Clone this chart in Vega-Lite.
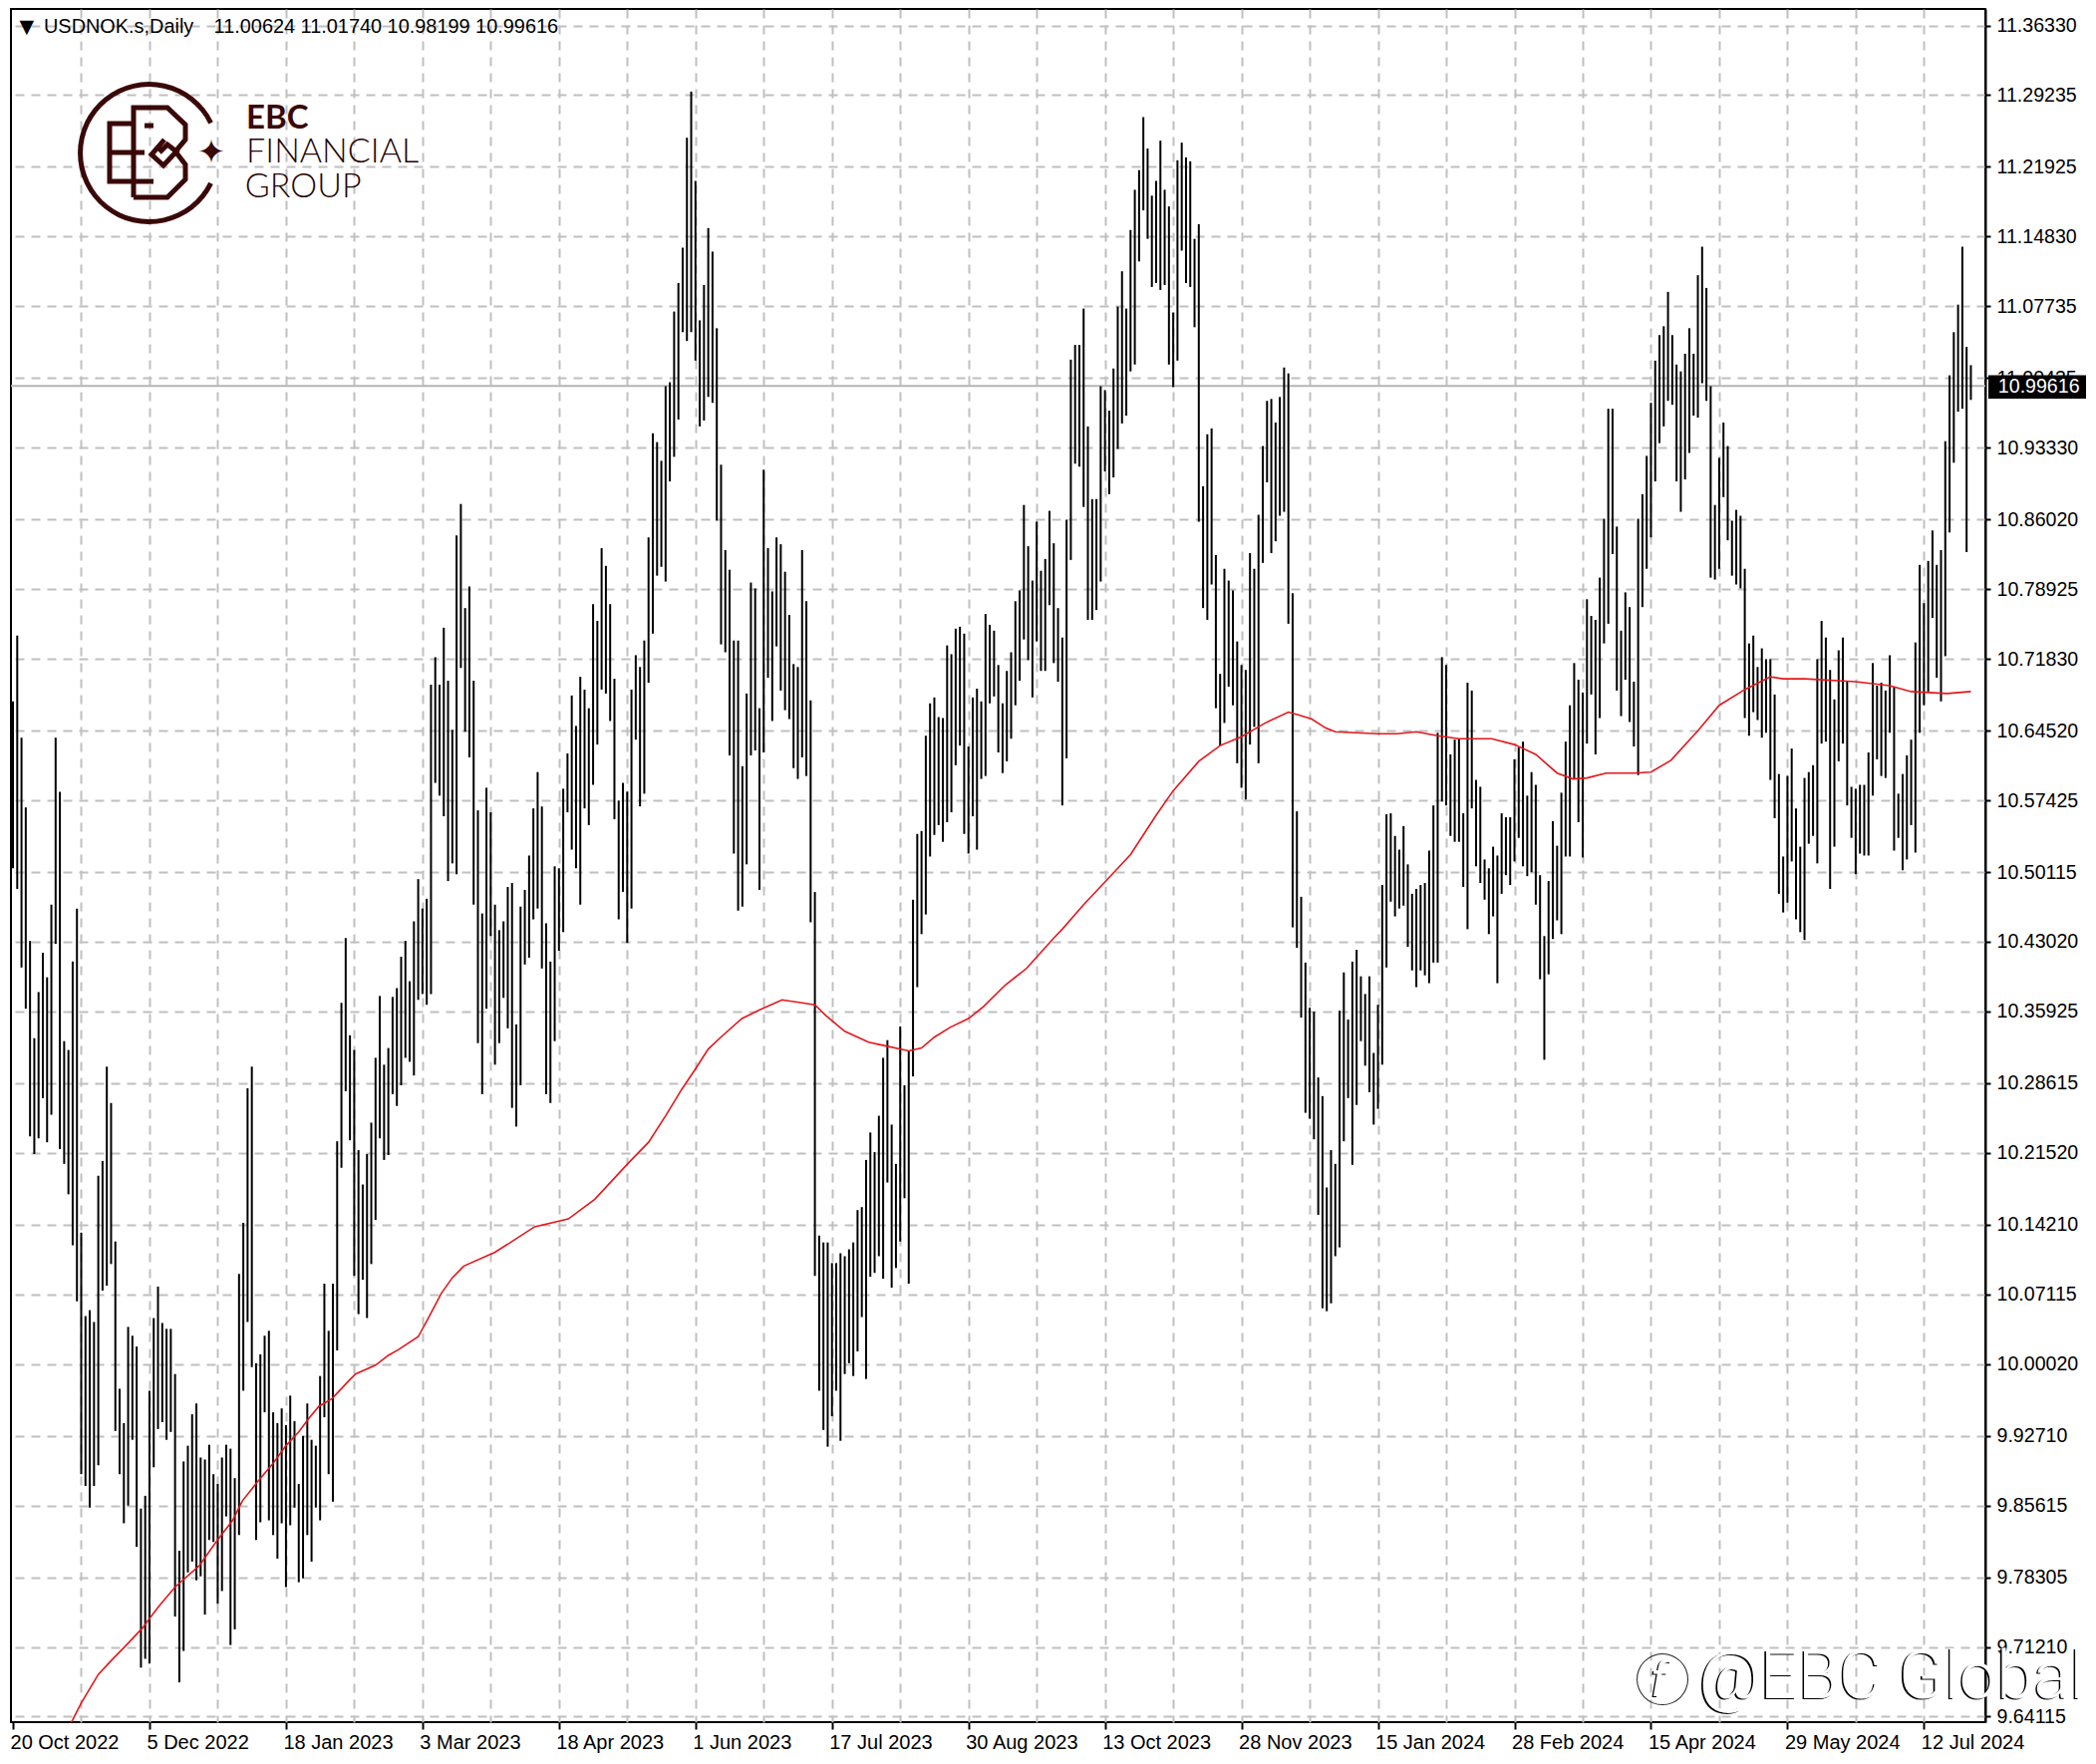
{
"$schema":"https://vega.github.io/schema/vega-lite/v6.json",
"width":1981,"height":1719,
"autosize":{"type":"none"},
"padding":{"left":11,"top":9,"right":111,"bottom":42},
"background":"white",
"view":{"stroke":"#000000","strokeWidth":2,"fill":"white"},
"encoding":{
"x":{"field":"i","type":"quantitative","title":null,
"scale":{"domain":[-0.47,462.4],"nice":false,"zero":false},
"axis":{"values":[0,16,32,48,64,80,96,112,128,144,160,176,192,208,224,240,256,272,288,304,320,336,352,368,384,400,416,432,448],
"grid":true,"gridColor":"#c0c0c0","gridDash":[9,7],"gridWidth":2,
"gridOpacity":{"condition":{"test":"datum.value==0","value":0},"value":1},
"domain":false,"tickColor":"#000000","tickWidth":2,"tickSize":7,
"tickOpacity":{"condition":{"test":"datum.value%32==0","value":1},"value":0},
"labelExpr":"datum.value%32==0?['20 Oct 2022','5 Dec 2022','18 Jan 2023','3 Mar 2023','18 Apr 2023','1 Jun 2023','17 Jul 2023','30 Aug 2023','13 Oct 2023','28 Nov 2023','15 Jan 2024','28 Feb 2024','15 Apr 2024','29 May 2024','12 Jul 2024'][datum.value/32]:''",
"labelAlign":"left","labelBaseline":"top","labelOffset":-3,"labelPadding":3,"labelFont":"Liberation Sans","labelFontSize":20,"labelColor":"#000000","labelOverlap":false,"labelFlush":false,"labelBound":false}},
"y":{"field":"price","type":"quantitative","title":null,
"scale":{"domain":[9.6355,11.3801],"nice":false,"zero":false},
"axis":{"orient":"right","values":[11.3633,11.29235,11.21925,11.1483,11.07735,11.00435,10.9333,10.8602,10.78925,10.7183,10.6452,10.57425,10.50115,10.4302,10.35925,10.28615,10.2152,10.1421,10.07115,10.0002,9.9271,9.85615,9.78305,9.7121,9.64115],
"format":".5f","grid":true,"gridColor":"#c0c0c0","gridDash":[9,7],"gridWidth":2,
"domain":true,"domainColor":"#000000","domainWidth":2,"tickColor":"#000000","tickWidth":2,"tickSize":5,
"labelFont":"Liberation Sans","labelFontSize":19.6,"labelColor":"#000000","labelPadding":6,"labelOverlap":false,"labelFlush":false,"labelBound":false}}
},
"layer":[
{"data":{"values":[{"i":-0.47,"i2":462.4,"price":10.99616}]},"mark":{"type":"rule","color":"#b4b4b4","strokeWidth":2},"encoding":{"x2":{"field":"i2"}}},
{"data":{"values":[
{"i":0,"price":10.675,"low":10.505},{"i":1,"price":10.742,"low":10.484},{"i":2,"price":10.638,"low":10.404},{"i":3,"price":10.567,"low":10.362},{"i":4,"price":10.431,"low":10.232},{"i":5,"price":10.332,"low":10.214},{"i":6,"price":10.379,"low":10.23},{"i":7,"price":10.419,"low":10.271},{"i":8,"price":10.394,"low":10.226},{"i":9,"price":10.468,"low":10.254},
{"i":10,"price":10.638,"low":10.428},{"i":11,"price":10.583,"low":10.219},{"i":12,"price":10.329,"low":10.204},{"i":13,"price":10.32,"low":10.173},{"i":14,"price":10.41,"low":10.121},{"i":15,"price":10.464,"low":10.064},{"i":16,"price":10.134,"low":9.888},{"i":17,"price":10.049,"low":9.876},{"i":18,"price":10.055,"low":9.854},{"i":19,"price":10.043,"low":9.876},
{"i":20,"price":10.192,"low":9.897},{"i":21,"price":10.207,"low":10.075},{"i":22,"price":10.303,"low":10.08},{"i":23,"price":10.266,"low":10.102},{"i":24,"price":10.125,"low":9.932},{"i":25,"price":9.975,"low":9.888},{"i":26,"price":9.94,"low":9.838},{"i":27,"price":10.038,"low":9.856},{"i":28,"price":10.029,"low":9.923},{"i":29,"price":10.018,"low":9.814},
{"i":30,"price":9.853,"low":9.691},{"i":31,"price":9.866,"low":9.7},{"i":32,"price":9.973,"low":9.695},{"i":33,"price":10.047,"low":9.895},{"i":34,"price":10.079,"low":9.934},{"i":35,"price":10.042,"low":9.941},{"i":36,"price":10.036,"low":9.923},{"i":37,"price":10.036,"low":9.931},{"i":38,"price":9.99,"low":9.743},{"i":39,"price":9.81,"low":9.676},
{"i":40,"price":9.901,"low":9.708},{"i":41,"price":9.917,"low":9.788},{"i":42,"price":9.949,"low":9.799},{"i":43,"price":9.96,"low":9.78},{"i":44,"price":9.905,"low":9.784},{"i":45,"price":9.903,"low":9.745},{"i":46,"price":9.918,"low":9.821},{"i":47,"price":9.888,"low":9.819},{"i":48,"price":9.878,"low":9.756},{"i":49,"price":9.905,"low":9.769},
{"i":50,"price":9.918,"low":9.845},{"i":51,"price":9.914,"low":9.714},{"i":52,"price":9.884,"low":9.73},{"i":53,"price":10.092,"low":9.826},{"i":54,"price":10.144,"low":9.973},{"i":55,"price":10.281,"low":10.043},{"i":56,"price":10.303,"low":9.997},{"i":57,"price":10.001,"low":9.821},{"i":58,"price":10.01,"low":9.839},{"i":59,"price":10.029,"low":9.951},
{"i":60,"price":10.034,"low":9.841},{"i":61,"price":9.951,"low":9.826},{"i":62,"price":9.94,"low":9.802},{"i":63,"price":9.955,"low":9.838},{"i":64,"price":9.938,"low":9.773},{"i":65,"price":9.968,"low":9.836},{"i":66,"price":9.942,"low":9.854},{"i":67,"price":9.878,"low":9.778},{"i":68,"price":9.927,"low":9.782},{"i":69,"price":9.96,"low":9.826},
{"i":70,"price":9.923,"low":9.799},{"i":71,"price":9.917,"low":9.854},{"i":72,"price":9.988,"low":9.841},{"i":73,"price":10.082,"low":9.946},{"i":74,"price":10.034,"low":9.888},{"i":75,"price":10.082,"low":9.86},{"i":76,"price":10.227,"low":10.014},{"i":77,"price":10.368,"low":10.2},{"i":78,"price":10.434,"low":10.278},{"i":79,"price":10.335,"low":10.228},
{"i":80,"price":10.32,"low":10.09},{"i":81,"price":10.218,"low":10.051},{"i":82,"price":10.183,"low":10.086},{"i":83,"price":10.214,"low":10.047},{"i":84,"price":10.246,"low":10.102},{"i":85,"price":10.312,"low":10.147},{"i":86,"price":10.375,"low":10.23},{"i":87,"price":10.305,"low":10.208},{"i":88,"price":10.322,"low":10.213},{"i":89,"price":10.374,"low":10.275},
{"i":90,"price":10.383,"low":10.263},{"i":91,"price":10.415,"low":10.284},{"i":92,"price":10.431,"low":10.312},{"i":93,"price":10.39,"low":10.308},{"i":94,"price":10.451,"low":10.294},{"i":95,"price":10.494,"low":10.371},{"i":96,"price":10.464,"low":10.377},{"i":97,"price":10.474,"low":10.366},{"i":98,"price":10.692,"low":10.377},{"i":99,"price":10.72,"low":10.592},
{"i":100,"price":10.692,"low":10.579},{"i":101,"price":10.75,"low":10.558},{"i":102,"price":10.696,"low":10.492},{"i":103,"price":10.646,"low":10.51},{"i":104,"price":10.844,"low":10.499},{"i":105,"price":10.876,"low":10.709},{"i":106,"price":10.77,"low":10.644},{"i":107,"price":10.792,"low":10.618},{"i":108,"price":10.696,"low":10.468},{"i":109,"price":10.564,"low":10.327},
{"i":110,"price":10.459,"low":10.275},{"i":111,"price":10.587,"low":10.362},{"i":112,"price":10.562,"low":10.436},{"i":113,"price":10.468,"low":10.305},{"i":114,"price":10.442,"low":10.327},{"i":115,"price":10.451,"low":10.373},{"i":116,"price":10.486,"low":10.342},{"i":117,"price":10.49,"low":10.261},{"i":118,"price":10.346,"low":10.242},{"i":119,"price":10.466,"low":10.284},
{"i":120,"price":10.483,"low":10.407},{"i":121,"price":10.518,"low":10.414},{"i":122,"price":10.566,"low":10.453},{"i":123,"price":10.603,"low":10.464},{"i":124,"price":10.568,"low":10.403},{"i":125,"price":10.449,"low":10.275},{"i":126,"price":10.41,"low":10.266},{"i":127,"price":10.507,"low":10.329},{"i":128,"price":10.505,"low":10.421},{"i":129,"price":10.586,"low":10.44},
{"i":130,"price":10.622,"low":10.562},{"i":131,"price":10.681,"low":10.524},{"i":132,"price":10.65,"low":10.505},{"i":133,"price":10.7,"low":10.468},{"i":134,"price":10.687,"low":10.566},{"i":135,"price":10.668,"low":10.549},{"i":136,"price":10.774,"low":10.59},{"i":137,"price":10.757,"low":10.631},{"i":138,"price":10.831,"low":10.687},{"i":139,"price":10.813,"low":10.683},
{"i":140,"price":10.774,"low":10.655},{"i":141,"price":10.698,"low":10.555},{"i":142,"price":10.574,"low":10.453},{"i":143,"price":10.592,"low":10.481},{"i":144,"price":10.583,"low":10.429},{"i":145,"price":10.687,"low":10.464},{"i":146,"price":10.722,"low":10.636},{"i":147,"price":10.71,"low":10.568},{"i":148,"price":10.737,"low":10.581},{"i":149,"price":10.842,"low":10.694},
{"i":150,"price":10.948,"low":10.744},{"i":151,"price":10.939,"low":10.803},{"i":152,"price":10.92,"low":10.812},{"i":153,"price":10.996,"low":10.797},{"i":154,"price":11.0,"low":10.899},{"i":155,"price":11.072,"low":10.924},{"i":156,"price":11.101,"low":10.962},{"i":157,"price":11.137,"low":11.051},{"i":158,"price":11.249,"low":11.042},{"i":159,"price":11.296,"low":11.051},
{"i":160,"price":11.205,"low":11.022},{"i":161,"price":11.063,"low":10.955},{"i":162,"price":11.099,"low":10.961},{"i":163,"price":11.157,"low":10.985},{"i":164,"price":11.133,"low":10.979},{"i":165,"price":11.055,"low":10.859},{"i":166,"price":10.916,"low":10.733},{"i":167,"price":10.829,"low":10.725},{"i":168,"price":10.809,"low":10.62},{"i":169,"price":10.737,"low":10.52},
{"i":170,"price":10.737,"low":10.462},{"i":171,"price":10.609,"low":10.466},{"i":172,"price":10.683,"low":10.509},{"i":173,"price":10.796,"low":10.62},{"i":174,"price":10.79,"low":10.625},{"i":175,"price":10.668,"low":10.483},{"i":176,"price":10.911,"low":10.623},{"i":177,"price":10.831,"low":10.699},{"i":178,"price":10.787,"low":10.655},{"i":179,"price":10.842,"low":10.731},
{"i":180,"price":10.835,"low":10.686},{"i":181,"price":10.807,"low":10.666},{"i":182,"price":10.763,"low":10.657},{"i":183,"price":10.713,"low":10.607},{"i":184,"price":10.71,"low":10.596},{"i":185,"price":10.829,"low":10.618},{"i":186,"price":10.777,"low":10.599},{"i":187,"price":10.676,"low":10.45},{"i":188,"price":10.481,"low":10.09},{"i":189,"price":10.131,"low":9.973},
{"i":190,"price":10.124,"low":9.933},{"i":191,"price":10.124,"low":9.916},{"i":192,"price":10.103,"low":9.947},{"i":193,"price":10.103,"low":9.973},{"i":194,"price":10.113,"low":9.922},{"i":195,"price":10.11,"low":9.99},{"i":196,"price":10.117,"low":10.001},{"i":197,"price":10.124,"low":9.988},{"i":198,"price":10.157,"low":10.013},{"i":199,"price":10.16,"low":10.048},
{"i":200,"price":10.208,"low":9.985},{"i":201,"price":10.236,"low":10.089},{"i":202,"price":10.216,"low":10.093},{"i":203,"price":10.253,"low":10.11},{"i":204,"price":10.312,"low":10.087},{"i":205,"price":10.33,"low":10.185},{"i":206,"price":10.244,"low":10.078},{"i":207,"price":10.204,"low":10.098},{"i":208,"price":10.344,"low":10.125},{"i":209,"price":10.284,"low":10.169},
{"i":210,"price":10.319,"low":10.082},{"i":211,"price":10.473,"low":10.293},{"i":212,"price":10.54,"low":10.384},{"i":213,"price":10.543,"low":10.438},{"i":214,"price":10.64,"low":10.458},{"i":215,"price":10.673,"low":10.517},{"i":216,"price":10.679,"low":10.539},{"i":217,"price":10.659,"low":10.549},{"i":218,"price":10.658,"low":10.532},{"i":219,"price":10.732,"low":10.552},
{"i":220,"price":10.723,"low":10.562},{"i":221,"price":10.749,"low":10.61},{"i":222,"price":10.751,"low":10.63},{"i":223,"price":10.744,"low":10.54},{"i":224,"price":10.629,"low":10.52},{"i":225,"price":10.679,"low":10.558},{"i":226,"price":10.688,"low":10.524},{"i":227,"price":10.675,"low":10.596},{"i":228,"price":10.764,"low":10.599},{"i":229,"price":10.753,"low":10.673},
{"i":230,"price":10.747,"low":10.68},{"i":231,"price":10.712,"low":10.623},{"i":232,"price":10.673,"low":10.602},{"i":233,"price":10.706,"low":10.614},{"i":234,"price":10.725,"low":10.637},{"i":235,"price":10.777,"low":10.671},{"i":236,"price":10.788,"low":10.696},{"i":237,"price":10.875,"low":10.738},{"i":238,"price":10.833,"low":10.717},{"i":239,"price":10.798,"low":10.679},
{"i":240,"price":10.858,"low":10.736},{"i":241,"price":10.808,"low":10.706},{"i":242,"price":10.82,"low":10.706},{"i":243,"price":10.869,"low":10.773},{"i":244,"price":10.836,"low":10.714},{"i":245,"price":10.77,"low":10.695},{"i":246,"price":10.74,"low":10.569},{"i":247,"price":10.86,"low":10.617},{"i":248,"price":11.023,"low":10.819},{"i":249,"price":11.038,"low":10.917},
{"i":250,"price":11.038,"low":10.914},{"i":251,"price":11.075,"low":10.873},{"i":252,"price":10.955,"low":10.758},{"i":253,"price":10.881,"low":10.758},{"i":254,"price":10.881,"low":10.768},{"i":255,"price":10.996,"low":10.797},{"i":256,"price":10.992,"low":10.909},{"i":257,"price":10.971,"low":10.886},{"i":258,"price":11.014,"low":10.903},{"i":259,"price":11.077,"low":10.932},
{"i":260,"price":11.113,"low":10.958},{"i":261,"price":11.075,"low":10.966},{"i":262,"price":11.155,"low":11.011},{"i":263,"price":11.196,"low":11.018},{"i":264,"price":11.216,"low":11.123},{"i":265,"price":11.27,"low":11.175},{"i":266,"price":11.238,"low":11.146},{"i":267,"price":11.19,"low":11.097},{"i":268,"price":11.205,"low":11.101},{"i":269,"price":11.246,"low":11.094},
{"i":270,"price":11.196,"low":11.099},{"i":271,"price":11.179,"low":11.018},{"i":272,"price":11.071,"low":10.995},{"i":273,"price":11.226,"low":11.022},{"i":274,"price":11.244,"low":11.134},{"i":275,"price":11.229,"low":11.101},{"i":276,"price":11.225,"low":11.097},{"i":277,"price":11.146,"low":11.056},{"i":278,"price":11.161,"low":10.858},{"i":279,"price":10.894,"low":10.77},
{"i":280,"price":10.947,"low":10.758},{"i":281,"price":10.953,"low":10.794},{"i":282,"price":10.824,"low":10.668},{"i":283,"price":10.703,"low":10.63},{"i":284,"price":10.81,"low":10.653},{"i":285,"price":10.798,"low":10.69},{"i":286,"price":10.788,"low":10.671},{"i":287,"price":10.736,"low":10.612},{"i":288,"price":10.712,"low":10.587},{"i":289,"price":10.707,"low":10.575},
{"i":290,"price":10.826,"low":10.631},{"i":291,"price":10.81,"low":10.649},{"i":292,"price":10.865,"low":10.612},{"i":293,"price":10.935,"low":10.816},{"i":294,"price":10.981,"low":10.898},{"i":295,"price":10.983,"low":10.826},{"i":296,"price":10.959,"low":10.838},{"i":297,"price":10.985,"low":10.864},{"i":298,"price":11.015,"low":10.868},{"i":299,"price":11.009,"low":10.754},
{"i":300,"price":10.785,"low":10.445},{"i":301,"price":10.563,"low":10.424},{"i":302,"price":10.476,"low":10.353},{"i":303,"price":10.409,"low":10.256},{"i":304,"price":10.363,"low":10.25},{"i":305,"price":10.359,"low":10.229},{"i":306,"price":10.292,"low":10.152},{"i":307,"price":10.273,"low":10.057},{"i":308,"price":10.18,"low":10.054},{"i":309,"price":10.218,"low":10.062},
{"i":310,"price":10.204,"low":10.11},{"i":311,"price":10.36,"low":10.119},{"i":312,"price":10.399,"low":10.227},{"i":313,"price":10.351,"low":10.271},{"i":314,"price":10.41,"low":10.203},{"i":315,"price":10.422,"low":10.264},{"i":316,"price":10.395,"low":10.329},{"i":317,"price":10.377,"low":10.304},{"i":318,"price":10.395,"low":10.277},{"i":319,"price":10.317,"low":10.244},
{"i":320,"price":10.366,"low":10.26},{"i":321,"price":10.488,"low":10.305},{"i":322,"price":10.56,"low":10.404},{"i":323,"price":10.561,"low":10.471},{"i":324,"price":10.538,"low":10.456},{"i":325,"price":10.524,"low":10.464},{"i":326,"price":10.548,"low":10.467},{"i":327,"price":10.509,"low":10.425},{"i":328,"price":10.479,"low":10.401},{"i":329,"price":10.484,"low":10.384},
{"i":330,"price":10.488,"low":10.401},{"i":331,"price":10.49,"low":10.396},{"i":332,"price":10.523,"low":10.388},{"i":333,"price":10.569,"low":10.409},{"i":334,"price":10.643,"low":10.409},{"i":335,"price":10.72,"low":10.573},{"i":336,"price":10.712,"low":10.569},{"i":337,"price":10.621,"low":10.538},{"i":338,"price":10.636,"low":10.532},{"i":339,"price":10.637,"low":10.532},
{"i":340,"price":10.561,"low":10.486},{"i":341,"price":10.694,"low":10.443},{"i":342,"price":10.686,"low":10.566},{"i":343,"price":10.595,"low":10.507},{"i":344,"price":10.588,"low":10.49},{"i":345,"price":10.514,"low":10.473},{"i":346,"price":10.505,"low":10.438},{"i":347,"price":10.527,"low":10.456},{"i":348,"price":10.518,"low":10.388},{"i":349,"price":10.561,"low":10.479},
{"i":350,"price":10.557,"low":10.498},{"i":351,"price":10.557,"low":10.488},{"i":352,"price":10.616,"low":10.512},{"i":353,"price":10.628,"low":10.536},{"i":354,"price":10.634,"low":10.507},{"i":355,"price":10.579,"low":10.497},{"i":356,"price":10.603,"low":10.501},{"i":357,"price":10.59,"low":10.468},{"i":358,"price":10.498,"low":10.392},{"i":359,"price":10.436,"low":10.31},
{"i":360,"price":10.492,"low":10.397},{"i":361,"price":10.553,"low":10.433},{"i":362,"price":10.528,"low":10.452},{"i":363,"price":10.582,"low":10.438},{"i":364,"price":10.634,"low":10.517},{"i":365,"price":10.671,"low":10.517},{"i":366,"price":10.714,"low":10.596},{"i":367,"price":10.697,"low":10.552},{"i":368,"price":10.684,"low":10.516},{"i":369,"price":10.779,"low":10.632},
{"i":370,"price":10.762,"low":10.682},{"i":371,"price":10.758,"low":10.621},{"i":372,"price":10.801,"low":10.658},{"i":373,"price":10.861,"low":10.734},{"i":374,"price":10.973,"low":10.754},{"i":375,"price":10.973,"low":10.825},{"i":376,"price":10.853,"low":10.686},{"i":377,"price":10.747,"low":10.66},{"i":378,"price":10.786,"low":10.697},{"i":379,"price":10.771,"low":10.654},
{"i":380,"price":10.695,"low":10.629},{"i":381,"price":10.861,"low":10.6},{"i":382,"price":10.886,"low":10.771},{"i":383,"price":10.925,"low":10.81},{"i":384,"price":10.979,"low":10.842},{"i":385,"price":11.022,"low":10.899},{"i":386,"price":11.048,"low":10.938},{"i":387,"price":11.057,"low":10.955},{"i":388,"price":11.092,"low":10.981},{"i":389,"price":11.048,"low":10.977},
{"i":390,"price":11.018,"low":10.899},{"i":391,"price":11.011,"low":10.868},{"i":392,"price":11.029,"low":10.901},{"i":393,"price":11.055,"low":10.928},{"i":394,"price":11.029,"low":10.966},{"i":395,"price":11.109,"low":10.964},{"i":396,"price":11.138,"low":10.999},{"i":397,"price":11.096,"low":10.981},{"i":398,"price":10.996,"low":10.801},{"i":399,"price":10.875,"low":10.799},
{"i":400,"price":10.923,"low":10.81},{"i":401,"price":10.959,"low":10.883},{"i":402,"price":10.935,"low":10.839},{"i":403,"price":10.859,"low":10.803},{"i":404,"price":10.87,"low":10.794},{"i":405,"price":10.864,"low":10.79},{"i":406,"price":10.81,"low":10.658},{"i":407,"price":10.734,"low":10.64},{"i":408,"price":10.742,"low":10.664},{"i":409,"price":10.71,"low":10.656},
{"i":410,"price":10.729,"low":10.638},{"i":411,"price":10.718,"low":10.643},{"i":412,"price":10.718,"low":10.595},{"i":413,"price":10.682,"low":10.556},{"i":414,"price":10.601,"low":10.479},{"i":415,"price":10.517,"low":10.46},{"i":416,"price":10.599,"low":10.47},{"i":417,"price":10.627,"low":10.512},{"i":418,"price":10.566,"low":10.453},{"i":419,"price":10.527,"low":10.44},
{"i":420,"price":10.597,"low":10.432},{"i":421,"price":10.603,"low":10.53},{"i":422,"price":10.61,"low":10.538},{"i":423,"price":10.718,"low":10.51},{"i":424,"price":10.757,"low":10.632},{"i":425,"price":10.74,"low":10.634},{"i":426,"price":10.707,"low":10.484},{"i":427,"price":10.677,"low":10.527},{"i":428,"price":10.727,"low":10.614},{"i":429,"price":10.74,"low":10.632},
{"i":430,"price":10.695,"low":10.569},{"i":431,"price":10.588,"low":10.536},{"i":432,"price":10.586,"low":10.499},{"i":433,"price":10.59,"low":10.52},{"i":434,"price":10.59,"low":10.518},{"i":435,"price":10.623,"low":10.518},{"i":436,"price":10.714,"low":10.579},{"i":437,"price":10.691,"low":10.616},{"i":438,"price":10.694,"low":10.599},{"i":439,"price":10.686,"low":10.597},
{"i":440,"price":10.722,"low":10.643},{"i":441,"price":10.69,"low":10.523},{"i":442,"price":10.581,"low":10.536},{"i":443,"price":10.601,"low":10.503},{"i":444,"price":10.62,"low":10.514},{"i":445,"price":10.636,"low":10.549},{"i":446,"price":10.735,"low":10.521},{"i":447,"price":10.814,"low":10.643},{"i":448,"price":10.775,"low":10.671},{"i":449,"price":10.818,"low":10.685},
{"i":450,"price":10.849,"low":10.76},{"i":451,"price":10.814,"low":10.699},{"i":452,"price":10.829,"low":10.675},{"i":453,"price":10.94,"low":10.721},{"i":454,"price":11.007,"low":10.847},{"i":455,"price":11.051,"low":10.918},{"i":456,"price":11.079,"low":10.97},{"i":457,"price":11.138,"low":10.973},{"i":458,"price":11.036,"low":10.827},{"i":459,"price":11.0174,"low":10.98199}
]},"mark":{"type":"rule","color":"#000000","strokeWidth":2},"encoding":{"y2":{"field":"low"}}},
{"data":{"values":[
{"i":13,"price":9.63},{"i":14,"price":9.638},{"i":16,"price":9.655},{"i":20,"price":9.684},{"i":23,"price":9.698},{"i":26.6,"price":9.714},{"i":30.5,"price":9.732},{"i":32,"price":9.741},{"i":34.3,"price":9.754},{"i":38,"price":9.773},{"i":43.7,"price":9.795},{"i":47.6,"price":9.819},{"i":51.5,"price":9.841},{"i":53.8,"price":9.861},{"i":57.3,"price":9.88},{"i":60.8,"price":9.898},{"i":64,"price":9.917},{"i":67,"price":9.931},{"i":69.4,"price":9.945},{"i":71.7,"price":9.957},{"i":74.8,"price":9.965},{"i":78.7,"price":9.983},{"i":80.3,"price":9.99},{"i":85,"price":9.999},{"i":88,"price":10.009},{"i":90.4,"price":10.015},{"i":95,"price":10.028},{"i":97.5,"price":10.048},{"i":100.4,"price":10.072},{"i":103,"price":10.088},{"i":105.7,"price":10.1},{"i":113,"price":10.114},{"i":117,"price":10.125},{"i":122.3,"price":10.14},{"i":130.2,"price":10.148},{"i":136.4,"price":10.168},{"i":144.3,"price":10.205},{"i":149,"price":10.226},{"i":153,"price":10.253},{"i":156.8,"price":10.28},{"i":159.9,"price":10.3},{"i":163,"price":10.321},{"i":166.2,"price":10.334},{"i":170.9,"price":10.352},{"i":175.6,"price":10.362},{"i":180.3,"price":10.371},{"i":185,"price":10.368},{"i":188,"price":10.366},{"i":190.6,"price":10.355},{"i":195,"price":10.339},{"i":200.6,"price":10.328},{"i":203.7,"price":10.325},{"i":210,"price":10.319},{"i":213,"price":10.322},{"i":216,"price":10.333},{"i":219.7,"price":10.343},{"i":224,"price":10.352},{"i":227.5,"price":10.364},{"i":232.6,"price":10.386},{"i":237.6,"price":10.403},{"i":244,"price":10.434},{"i":246,"price":10.443},{"i":251,"price":10.468},{"i":256,"price":10.491},{"i":262,"price":10.519},{"i":268,"price":10.559},{"i":272,"price":10.584},{"i":278,"price":10.614},{"i":283,"price":10.63},{"i":288,"price":10.639},{"i":293.6,"price":10.653},{"i":299,"price":10.664},{"i":301.5,"price":10.661},{"i":304.5,"price":10.657},{"i":307.7,"price":10.648},{"i":310,"price":10.644},{"i":320,"price":10.642},{"i":324.5,"price":10.642},{"i":329,"price":10.644},{"i":334,"price":10.64},{"i":339,"price":10.637},{"i":346.7,"price":10.637},{"i":352,"price":10.631},{"i":357,"price":10.621},{"i":362,"price":10.602},{"i":365.7,"price":10.596},{"i":369,"price":10.597},{"i":373.5,"price":10.602},{"i":380,"price":10.602},{"i":384,"price":10.603},{"i":388.7,"price":10.615},{"i":395,"price":10.645},{"i":400,"price":10.671},{"i":406,"price":10.687},{"i":412,"price":10.7},{"i":415,"price":10.698},{"i":420,"price":10.698},{"i":432,"price":10.695},{"i":440,"price":10.691},{"i":445,"price":10.685},{"i":453.4,"price":10.683},{"i":459,"price":10.685}
]},"mark":{"type":"line","color":"#e3171c","strokeWidth":1.6,"interpolate":"linear","clip":true}},
{"data":{"values":[{"i":463.1,"i2":486,"price":11.0072,"low":10.9832}]},"mark":{"type":"rect","color":"#000000"},"encoding":{"x2":{"field":"i2"},"y2":{"field":"low"}}},
{"data":{"values":[{"i":465.4,"price":10.995,"label":"10.99616"}]},"mark":{"type":"text","align":"left","baseline":"middle","font":"Liberation Sans","fontSize":19.6,"color":"#ffffff"},"encoding":{"text":{"field":"label"}}},
{"data":{"values":[{"i":7.24,"price":11.362,"label":"USDNOK.s,Daily"},{"i":47.1,"price":11.362,"label":"11.00624 11.01740 10.98199 10.99616"}]},"mark":{"type":"text","align":"left","baseline":"middle","font":"Liberation Sans","fontSize":19.9,"color":"#000000"},"encoding":{"text":{"field":"label"}}},
{"data":{"values":[{"i":3.2,"price":11.362,"label":"▼"}]},"mark":{"type":"text","align":"center","baseline":"middle","font":"DejaVu Sans","fontSize":19,"color":"#000000"},"encoding":{"text":{"field":"label"}}},
{"data":{"values":[{"i":31.9,"price":11.2334}]},"mark":{"type":"arc","color":"#3a0808","outerRadius":71.5,"innerRadius":66.5,"theta":2.025,"theta2":7.4}},
{"data":{"values":[
{"g":"a","o":1,"i":28.27,"price":11.2634},{"g":"a","o":2,"i":22.66,"price":11.2634},{"g":"a","o":3,"i":22.66,"price":11.2045},{"g":"a","o":4,"i":28.27,"price":11.2045},
{"g":"b","o":1,"i":22.66,"price":11.2339},{"g":"b","o":2,"i":30.84,"price":11.2339},
{"g":"c","o":1,"i":28.27,"price":11.1883},{"g":"c","o":2,"i":28.27,"price":11.2796},{"g":"c","o":3,"i":36.21,"price":11.2796},{"g":"c","o":4,"i":40.42,"price":11.2623},{"g":"c","o":5,"i":40.42,"price":11.2471},{"g":"c","o":6,"i":38.08,"price":11.2349},{"g":"c","o":7,"i":40.42,"price":11.2217},{"g":"c","o":8,"i":40.42,"price":11.2065},{"g":"c","o":9,"i":36.21,"price":11.1883},{"g":"c","o":10,"i":28.27,"price":11.1883},
{"g":"d","o":1,"i":30.84,"price":11.2613},{"g":"d","o":2,"i":32.94,"price":11.2613},
{"g":"e","o":1,"i":28.27,"price":11.2045},{"g":"e","o":2,"i":32.94,"price":11.2045},
{"g":"f","o":1,"i":35.51,"price":11.2471},{"g":"f","o":2,"i":32.48,"price":11.2319},{"g":"f","o":3,"i":35.28,"price":11.2207},{"g":"f","o":4,"i":38.32,"price":11.2349},{"g":"f","o":5,"i":36.21,"price":11.242},{"g":"f","o":6,"i":34.35,"price":11.2339}
]},"mark":{"type":"line","color":"#3a0808","strokeWidth":5},"encoding":{"detail":{"field":"g"},"order":{"field":"o"}}},
{"data":{"values":[{"i":46.5,"price":11.2329,"label":"✦"}]},"mark":{"type":"text","align":"center","baseline":"middle","font":"DejaVu Sans","fontSize":34,"color":"#3a0808"},"encoding":{"text":{"field":"label"}}},
{"data":{"values":[{"i":54.7,"price":11.2684,"label":"EBC"}]},"mark":{"type":"text","align":"left","baseline":"middle","font":"Lato","fontWeight":"bold","fontSize":33,"color":"#3a0808"},"encoding":{"text":{"field":"label"}}},
{"data":{"values":[{"i":54.7,"price":11.2339,"label":"FINANCIAL"},{"i":54.4,"price":11.1984,"label":"GROUP"}]},"mark":{"type":"text","align":"left","baseline":"middle","font":"Lato","fontWeight":300,"fontSize":34,"color":"#260404"},"encoding":{"text":{"field":"label"}}},
{"data":{"values":[{"i":386.7,"price":9.6791}]},"mark":{"type":"arc","color":"#222222","outerRadius":26,"innerRadius":25}},
{"data":{"values":[{"i":394.9,"price":9.6588,"label":"@EBC Global"}]},"mark":{"type":"text","align":"left","baseline":"alphabetic","font":"Roboto","fontWeight":300,"fontSize":67,"color":"#000000"},"encoding":{"text":{"field":"label"}}},
{"data":{"values":[{"i":394.9,"price":9.6588,"label":"@EBC Global"}]},"mark":{"type":"text","align":"left","baseline":"alphabetic","font":"Roboto","fontWeight":300,"fontSize":67,"color":"#ffffff","dx":1.6,"dy":-0.6},"encoding":{"text":{"field":"label"}}},
{"data":{"values":[{"i":385.5,"price":9.6608,"label":"f"}]},"mark":{"type":"text","align":"center","baseline":"alphabetic","font":"Roboto","fontStyle":"italic","fontSize":50,"color":"#000000"},"encoding":{"text":{"field":"label"}}},
{"data":{"values":[{"i":385.5,"price":9.6608,"label":"f"}]},"mark":{"type":"text","align":"center","baseline":"alphabetic","font":"Roboto","fontStyle":"italic","fontSize":50,"color":"#ffffff","dx":1.6,"dy":-0.6},"encoding":{"text":{"field":"label"}}}
]
}
